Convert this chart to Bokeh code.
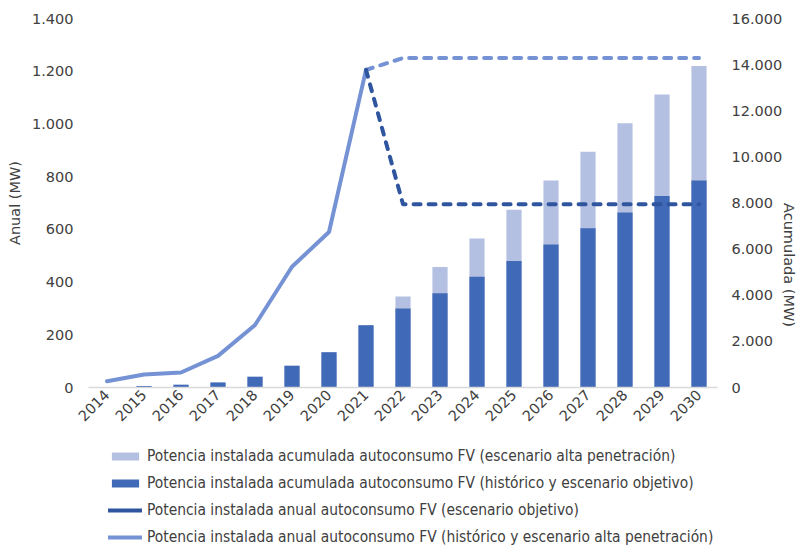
import math

from bokeh.plotting import figure
from bokeh.layouts import column
from bokeh.models import (ColumnDataSource, FactorRange, Range1d, LinearAxis,
                          FixedTicker, CustomJSTickFormatter, Legend, LegendItem)
from bokeh.embed import file_html
from bokeh.resources import INLINE

# --- data -------------------------------------------------------------------
years = [str(y) for y in range(2014, 2031)]

# cumulative installed capacity (MW, right axis)
acum_objetivo = [25, 60, 115, 220, 470, 940, 1530, 2700, 3430, 4090, 4800,
                 5480, 6200, 6910, 7590, 8300, 8980]
acum_alta = [25, 60, 115, 220, 470, 940, 1530, 2700, 3950, 5230, 6460,
             7710, 8980, 10220, 11460, 12710, 13940]

# annual installed capacity (MW, left axis)
hist_years = years[:8]
anual_hist = [24, 49, 57, 120, 237, 458, 590, 1205]
proj_years = years[7:]
anual_alta_proj = [1205, 1250, 1250, 1250, 1250, 1250, 1250, 1250, 1250, 1250]
anual_obj_proj = [1205, 695, 695, 695, 695, 695, 695, 695, 695, 695]

left_ticks = [0, 200, 400, 600, 800, 1000, 1200, 1400]
right_ticks = [0, 2000, 4000, 6000, 8000, 10000, 12000, 14000, 16000]

legend_labels = [
    "Potencia instalada acumulada autoconsumo FV (escenario alta penetración)",
    "Potencia instalada acumulada autoconsumo FV (histórico y escenario objetivo)",
    "Potencia instalada anual autoconsumo FV (escenario objetivo)",
    "Potencia instalada anual autoconsumo FV (histórico y escenario alta penetración)",
]

# --- styling ----------------------------------------------------------------
C_BAR_DARK = "#4069B8"
C_BAR_LIGHT = "#B4C0E1"
C_LINE_LIGHT = "#7592D4"
C_LINE_DARK = "#2F559F"
TXT = "#404040"
FONT = "DejaVu Sans"
LEGEND_FONT = "DejaVu Sans Condensed"
FS = "14.5px"
BAR_W = 0.41


def style_axis(ax):
    ax.axis_line_color = None
    ax.major_tick_line_color = None
    ax.minor_tick_line_color = None
    ax.major_tick_out = 0
    ax.major_tick_in = 0
    ax.minor_tick_out = 0
    ax.minor_tick_in = 0
    ax.major_label_text_font = FONT
    ax.major_label_text_font_size = FS
    ax.major_label_text_color = TXT
    ax.axis_label_text_font = FONT
    ax.axis_label_text_font_size = FS
    ax.axis_label_text_font_style = "normal"
    ax.axis_label_text_color = TXT


# --- main chart -------------------------------------------------------------
p = figure(width=808, height=432,
           x_range=FactorRange(*years, range_padding=0),
           y_range=Range1d(0, 1400),
           output_backend="svg", toolbar_location=None,
           min_border_left=88, min_border_right=90,
           min_border_top=18, min_border_bottom=45)
p.outline_line_color = None
p.xgrid.visible = False
p.ygrid.visible = False
p.extra_y_ranges = {"acum": Range1d(0, 16000)}

fmt = CustomJSTickFormatter(code="""
    return Math.round(tick).toString().replace(/\\B(?=(\\d{3})+(?!\\d))/g, '.');
""")

xa = p.xaxis[0]
style_axis(xa)
xa.axis_line_color = "#D9D9D9"
xa.axis_line_width = 1.5
xa.major_label_orientation = math.pi / 4
xa.major_label_standoff = 5

ya = p.yaxis[0]
style_axis(ya)
ya.ticker = FixedTicker(ticks=left_ticks)
ya.formatter = fmt
ya.major_label_standoff = 15
ya.axis_label = "Anual (MW)"
ya.axis_label_standoff = 6

ra = LinearAxis(y_range_name="acum", ticker=FixedTicker(ticks=right_ticks),
                formatter=fmt)
style_axis(ra)
ra.major_label_standoff = 14
ra.axis_label = "Acumulada (MW)"
ra.axis_label_orientation = -math.pi / 2
ra.axis_label_standoff = 4
p.add_layout(ra, "right")

# bars (cumulative): high-penetration total behind, target scenario in front
bar_src = ColumnDataSource(dict(year=years, alta=acum_alta, obj=acum_objetivo))
p.vbar(x="year", top="alta", width=BAR_W, source=bar_src,
       y_range_name="acum", fill_color=C_BAR_LIGHT, line_color=None)
p.vbar(x="year", top="obj", width=BAR_W, source=bar_src,
       y_range_name="acum", fill_color=C_BAR_DARK, line_color=None)

# lines (annual)
p.line(hist_years, anual_hist, line_color=C_LINE_LIGHT, line_width=4,
       line_cap="round", line_join="round")
p.line(proj_years, anual_alta_proj, line_color=C_LINE_LIGHT, line_width=4,
       line_dash="7 8", line_cap="round", line_join="round")
p.line(proj_years, anual_obj_proj, line_color=C_LINE_DARK, line_width=4,
       line_dash="7 8", line_cap="round", line_join="round")

# --- legend panel (its frame lines up with the chart frame above) -----------
LOW_H = 113
q = figure(width=808, height=LOW_H, x_range=Range1d(0, 1), y_range=Range1d(0, 1),
           output_backend="svg", toolbar_location=None,
           x_axis_location=None, y_axis_location=None,
           min_border_left=88, min_border_right=90,
           min_border_top=0, min_border_bottom=0)
q.outline_line_color = None
q.xgrid.visible = False
q.ygrid.visible = False

# swatch renderers kept outside the visible range; they only feed the legend
off = ColumnDataSource(dict(x=[-5, -4], y=[-5, -4], b=[-6, -6]))
s_alta = q.vbar(x="x", top="y", bottom="b", width=0.1, source=off,
                fill_color=C_BAR_LIGHT, line_color=None)
s_obj = q.vbar(x="x", top="y", bottom="b", width=0.1, source=off,
               fill_color=C_BAR_DARK, line_color=None)
s_lobj = q.line("x", "y", source=off, line_color=C_LINE_DARK,
                line_width=4, line_cap="round")
s_lalta = q.line("x", "y", source=off, line_color=C_LINE_LIGHT,
                 line_width=4, line_cap="round")

legend = Legend(items=[
    LegendItem(label=legend_labels[0], renderers=[s_alta]),
    LegendItem(label=legend_labels[1], renderers=[s_obj]),
    LegendItem(label=legend_labels[2], renderers=[s_lobj]),
    LegendItem(label=legend_labels[3], renderers=[s_lalta]),
], location=(20, -1), orientation="vertical",
    padding=0, margin=0, spacing=9, label_height=18,
    glyph_height=10, glyph_width=34, label_standoff=5,
    border_line_alpha=0, background_fill_alpha=0,
    label_text_font=LEGEND_FONT, label_text_font_size="15.4px",
    label_text_color=TXT)
q.add_layout(legend)

layout = column(p, q, spacing=0)
open("out.html", "w").write(file_html(layout, INLINE))
